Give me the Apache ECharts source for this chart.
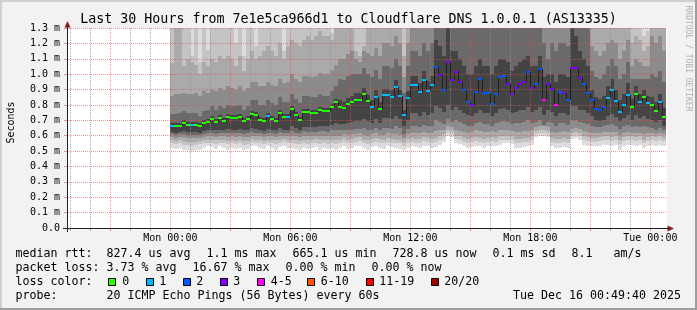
<!DOCTYPE html>
<html><head><meta charset="utf-8">
<script src="https://cdn.jsdelivr.net/npm/echarts@6/dist/echarts.min.js"></script>
<style>html,body{margin:0;padding:0;background:#f2f2f2}#c{width:697px;height:310px}</style>
</head><body><div id="c"></div>
<script>
// ---- DATA ----
// one column = 12 minutes; column 0 starts Mon 00:00 (x in minutes from Mon 00:00)
const STEP = 12;
const median = [
.663,.663,.663,.682,.669,.669,.669,.663,.682,.689,
.708,.689,.715,.695,.721,.715,.715,.721,.695,.708,
.741,.734,.702,.695,.728,.708,.695,.749,.721,.721,
.773,.734,.702,.754,.754,.747,.747,.767,.760,.760,
.786,.819,.789,.782,.806,.819,.834,.834,.871,.826,
.787,.854,.776,.866,.866,.854,.919,.860,.736,.847,
.932,.932,.886,.959,.893,.932,1.049,.997,.898,1.080,
.959,1.014,.950,.898,.821,.801,.886,.970,.880,.880,
.807,.872,.984,.988,.936,.871,.910,.936,.949,1.014,
.910,.936,1.036,.832,.936,.906,.801,.884,.880,.832,
1.040,1.040,.975,.936,.880,.832,.776,.767,.789,.847,
.899,.828,.754,.801,.867,.789,.871,.819,.854,.812,
.800,.763,.819,.723];
const lossLevel = [
1,0,0,0,0,1,0,0,0,0,
0,0,0,0,0,0,0,0,0,0,
0,0,0,0,1,0,0,0,0,1,
0,0,0,0,0,0,0,0,0,0,
0,0,0,0,0,0,0,0,0,0,
1,1,0,1,1,1,1,1,1,1,
1,1,1,1,1,1,2,3,2,3,
3,3,3,2,2,3,2,2,2,2,
2,2,2,2,3,3,3,3,3,2,
3,2,2,4,3,3,4,2,3,2,
3,3,3,2,2,2,2,2,2,1,
1,1,1,1,1,0,0,1,0,1,
0,0,1,0];
// smoke: ping rank boundaries (outer pair 1 .. inner pair 6); pair 1 reaches past the top
const lo1 = [
.52,.515,.52,.51,.505,.50,.505,.51,.52,.53,
.525,.515,.53,.52,.51,.52,.515,.52,.51,.515,
.535,.53,.52,.515,.53,.52,.51,.525,.535,.52,
.52,.515,.51,.52,.515,.52,.525,.51,.52,.515,
.52,.51,.52,.53,.515,.52,.53,.535,.52,.51,
.525,.53,.52,.515,.53,.525,.52,.515,.505,.52,
.53,.525,.52,.535,.53,.52,.525,.54,.56,.60,
.59,.55,.545,.53,.52,.525,.535,.53,.52,.53,
.535,.53,.54,.55,.55,.545,.52,.52,.525,.53,
.54,.59,.595,.60,.59,.53,.52,.52,.525,.52,
.58,.585,.575,.54,.535,.53,.53,.535,.54,.54,
.535,.54,.51,.535,.54,.54,.535,.54,.52,.535,
.54,.535,.54,.535];
const lo2 = [
.55,.545,.55,.54,.54,.535,.54,.545,.55,.555,
.555,.545,.555,.55,.545,.55,.545,.55,.54,.545,
.56,.555,.55,.545,.555,.55,.545,.555,.56,.55,
.55,.545,.545,.55,.545,.55,.555,.545,.55,.545,
.55,.545,.55,.56,.55,.555,.56,.565,.55,.545,
.555,.56,.555,.55,.56,.555,.55,.55,.535,.555,
.56,.555,.555,.565,.56,.555,.56,.57,.585,.62,
.61,.58,.575,.56,.555,.56,.565,.56,.555,.56,
.565,.56,.57,.575,.575,.57,.555,.555,.56,.56,
.57,.61,.615,.62,.61,.56,.555,.555,.56,.555,
.60,.605,.60,.57,.565,.56,.56,.565,.57,.57,
.565,.57,.545,.565,.57,.57,.565,.57,.55,.565,
.57,.565,.57,.565];
const lo3 = [
.57,.565,.57,.565,.56,.56,.56,.565,.57,.575,
.575,.57,.575,.57,.565,.57,.565,.57,.565,.565,
.58,.575,.57,.565,.575,.57,.57,.575,.58,.57,
.575,.57,.565,.575,.57,.575,.58,.57,.575,.57,
.575,.57,.575,.585,.575,.58,.585,.59,.575,.57,
.58,.585,.58,.575,.585,.58,.575,.575,.56,.58,
.585,.58,.58,.59,.585,.58,.585,.595,.61,.64,
.63,.60,.60,.585,.58,.585,.59,.585,.58,.585,
.59,.585,.595,.60,.60,.595,.58,.58,.585,.585,
.595,.63,.635,.64,.63,.585,.58,.58,.585,.58,
.62,.625,.62,.595,.59,.585,.585,.59,.595,.595,
.59,.595,.57,.59,.595,.595,.59,.595,.575,.59,
.595,.59,.595,.585];
const lo4 = [
.59,.585,.59,.59,.585,.585,.585,.585,.59,.595,
.60,.59,.60,.595,.59,.595,.59,.595,.59,.59,
.60,.60,.595,.59,.60,.595,.59,.60,.60,.595,
.60,.595,.59,.60,.595,.60,.60,.595,.60,.595,
.60,.60,.60,.61,.605,.61,.61,.615,.605,.60,
.61,.615,.605,.605,.615,.61,.61,.605,.585,.61,
.62,.615,.615,.625,.62,.62,.63,.635,.64,.66,
.655,.635,.63,.625,.62,.625,.635,.63,.625,.625,
.63,.625,.635,.64,.635,.63,.625,.625,.63,.63,
.635,.655,.66,.66,.655,.625,.62,.625,.63,.625,
.645,.65,.645,.63,.625,.62,.615,.62,.625,.625,
.625,.625,.605,.62,.625,.62,.62,.62,.61,.615,
.615,.61,.615,.61];
const lo5 = [
.61,.605,.61,.61,.605,.605,.605,.605,.61,.615,
.62,.61,.62,.615,.62,.615,.615,.62,.61,.615,
.625,.62,.615,.61,.62,.615,.61,.625,.62,.615,
.63,.62,.615,.63,.625,.625,.625,.63,.63,.625,
.635,.64,.635,.635,.64,.64,.645,.645,.65,.64,
.635,.65,.635,.65,.65,.645,.66,.65,.61,.645,
.665,.665,.655,.67,.66,.665,.70,.69,.675,.71,
.69,.70,.69,.675,.665,.66,.68,.69,.675,.675,
.665,.68,.69,.695,.69,.675,.68,.685,.69,.70,
.685,.69,.70,.67,.69,.685,.665,.68,.68,.67,
.70,.70,.69,.685,.675,.665,.655,.655,.66,.67,
.675,.665,.645,.66,.67,.655,.665,.655,.66,.655,
.65,.64,.65,.635];
const lo6 = [
.625,.62,.625,.63,.625,.625,.625,.62,.63,.635,
.64,.635,.64,.635,.645,.64,.64,.645,.635,.64,
.65,.645,.635,.63,.645,.64,.635,.65,.64,.64,
.66,.65,.64,.655,.655,.655,.655,.66,.66,.66,
.67,.685,.675,.675,.685,.69,.695,.695,.71,.695,
.685,.71,.68,.715,.715,.71,.73,.71,.66,.705,
.745,.745,.73,.755,.735,.745,.79,.78,.755,.80,
.77,.785,.765,.75,.735,.725,.75,.77,.75,.75,
.73,.75,.775,.78,.765,.745,.755,.765,.77,.785,
.755,.765,.785,.735,.765,.755,.725,.75,.75,.735,
.79,.79,.77,.765,.745,.725,.70,.695,.705,.725,
.74,.72,.695,.715,.735,.705,.735,.715,.725,.71,
.705,.69,.705,.665];
const hi6 = [
.683,.683,.683,.70,.69,.69,.69,.683,.70,.71,
.728,.71,.735,.715,.74,.735,.735,.74,.715,.728,
.76,.755,.72,.715,.75,.728,.715,.77,.74,.74,
.795,.755,.72,.775,.775,.767,.767,.787,.78,.78,
.806,.84,.83,.82,.845,.86,.875,.875,.91,.865,
.83,.895,.82,.905,.905,.895,.96,.90,.77,.89,
.99,.99,.945,1.02,.955,.99,1.22,1.18,1.12,1.4,
1.15,1.15,1.1,1.05,1.0,1.0,1.05,1.1,1.05,1.05,
1.0,1.05,1.1,1.1,1.08,1.02,1.05,1.08,1.1,1.12,
1.05,1.05,1.12,.98,1.0,1.0,.95,1.0,1.0,.98,
1.3,1.25,1.15,1.1,1.05,.90,.85,.84,.86,.92,
.97,.90,.83,.87,.94,.84,.92,.87,.90,.86,
.85,.82,.87,.78];
const hi5 = [
.74,.74,.745,.76,.75,.75,.75,.73,.76,.77,
.79,.77,.795,.78,.80,.795,.79,.80,.77,.79,
.83,.83,.80,.80,.83,.81,.80,.85,.82,.82,
.87,.84,.81,.86,.86,.85,.85,.87,.86,.86,
.89,.92,.97,.96,.99,1.0,1.0,1.0,1.04,1.0,
.98,1.03,.97,1.05,1.05,1.04,1.1,1.05,.88,1.05,
1.15,1.15,1.12,1.2,1.15,1.2,1.45,1.45,1.45,1.45,
1.45,1.45,1.45,1.45,1.45,1.45,1.45,1.45,1.45,1.45,
1.45,1.45,1.45,1.45,1.45,1.45,1.45,1.45,1.45,1.45,
1.45,1.45,1.45,1.2,1.1,1.2,1.15,1.2,1.2,1.18,
1.45,1.45,1.45,1.45,1.45,1.02,.98,.97,1.0,1.05,
1.1,1.05,.97,1.0,1.08,.97,.97,.97,.97,.97,
1.0,.98,1.02,.95];
const hi4 = [
.86,.87,.87,.88,.87,.87,.88,.86,.89,.88,
.90,.89,.91,.90,.92,.91,.90,.92,.89,.91,
.95,.95,.92,.92,.95,.93,.92,.97,.94,.95,
1.0,.97,.95,.99,.99,.98,.99,1.01,1.0,1.0,
1.03,1.06,1.1,1.1,1.13,1.15,1.1,1.08,1.15,1.14,
1.12,1.17,1.12,1.2,1.2,1.18,1.25,1.2,.98,1.2,
1.4,1.4,1.4,1.4,1.4,1.4,1.5,1.5,1.5,1.5,
1.5,1.5,1.5,1.5,1.5,1.5,1.5,1.5,1.5,1.5,
1.5,1.5,1.5,1.5,1.5,1.5,1.5,1.5,1.5,1.5,
1.5,1.5,1.5,1.35,1.35,1.35,1.35,1.35,1.35,1.35,
1.5,1.5,1.5,1.5,1.5,1.18,1.15,1.12,1.15,1.2,
1.22,1.2,1.1,1.15,1.22,1.05,1.1,1.08,1.05,1.05,
1.25,1.2,1.25,1.15];
const hi3 = [
1.07,1.35,1.35,1.05,1.1,1.08,1.06,1.0,1.08,1.05,
1.1,1.08,1.12,1.1,1.12,1.1,1.05,1.12,1.02,1.1,
1.15,1.1,1.12,1.15,1.18,1.15,1.12,1.2,1.1,1.18,
1.22,1.2,1.18,1.22,1.25,1.22,1.25,1.28,1.25,1.25,
1.22,1.35,1.4,1.4,1.4,1.4,1.15,1.12,1.18,1.4,
1.4,1.4,1.4,1.4,1.4,1.4,1.4,1.4,1.12,1.4,
1.5,1.5,1.5,1.5,1.5,1.5,1.5,1.5,1.5,1.5,
1.5,1.5,1.5,1.5,1.5,1.5,1.5,1.5,1.5,1.5,
1.5,1.5,1.5,1.5,1.5,1.5,1.5,1.5,1.5,1.5,
1.5,1.5,1.5,1.5,1.5,1.5,1.5,1.5,1.5,1.5,
1.5,1.5,1.5,1.5,1.5,1.4,1.4,1.4,1.4,1.4,
1.4,1.4,1.4,1.4,1.4,1.2,1.25,1.22,1.15,1.18,
1.4,1.4,1.4,1.4];
const hi2 = [
1.4,1.4,1.4,1.4,1.4,1.12,1.4,1.08,1.4,1.16,
1.4,1.4,1.4,1.4,1.4,1.4,1.2,1.4,1.12,1.4,
1.4,1.18,1.4,1.4,1.4,1.4,1.4,1.4,1.15,1.4,
1.4,1.4,1.4,1.4,1.4,1.4,1.4,1.4,1.4,1.4,
1.27,1.4,1.45,1.45,1.45,1.45,1.45,1.45,1.45,1.45,
1.45,1.45,1.45,1.45,1.45,1.45,1.45,1.45,1.45,1.45,
1.5,1.5,1.5,1.5,1.5,1.5,1.5,1.5,1.5,1.5,
1.5,1.5,1.5,1.5,1.5,1.5,1.5,1.5,1.5,1.5,
1.5,1.5,1.5,1.5,1.5,1.5,1.5,1.5,1.5,1.5,
1.5,1.5,1.5,1.5,1.5,1.5,1.5,1.5,1.5,1.5,
1.5,1.5,1.5,1.5,1.5,1.5,1.5,1.5,1.5,1.5,
1.5,1.5,1.5,1.5,1.5,1.5,1.5,1.5,1.25,1.28,
1.5,1.5,1.5,1.5];
const xTickMinutes = [0, 360, 720, 1080, 1440];
const xTickLabels = ['Mon 00:00', 'Mon 06:00', 'Mon 12:00', 'Mon 18:00', 'Tue 00:00'];
const lossLabels = ['0', '1', '2', '3', '4-5', '6-10', '11-19', '20/20'];
const lossColors = ['#26ff00', '#00b8ff', '#0059ff', '#7e00ff', '#ff00ff', '#ff5500', '#ff0000', '#a10000'];
const titleText = 'Last 30 Hours from 7e1e5ca966d1 to Cloudflare DNS 1.0.0.1 (AS13335)';
const legendRtt = ['median rtt:', '827.4 us avg', '1.1 ms max', '665.1 us min', '728.8 us now', '0.1 ms sd', '8.1', 'am/s'];
const legendLoss = ['packet loss:', '3.73 % avg', '16.67 % max', '0.00 % min', '0.00 % now'];
const legendProbe = ['probe:', '20 ICMP Echo Pings (56 Bytes) every 60s', 'Tue Dec 16 00:49:40 2025'];

// ---- LAYOUT / STYLE ----
const X_MIN = -310, X_MAX = 1490, Y_MAX = 1.3;
const SMOKE_SHADES = ['#dcdcdc', '#c4c4c4', '#aaaaaa', '#8c8c8c', '#6a6a6a', '#444444'];
const MGRID = 'rgba(222,79,79,0.6)', GRID = 'rgba(143,143,143,0.75)';
const MONO = '"DejaVu Sans Mono", monospace';
const LEG_FONT = '11.63px ' + MONO;
const rttX = [15.5, 106.5, 206.5, 292.5, 392.5, 492.5, 571.5, 613.5];
const lossX = [15.5, 106.5, 192.5, 285.5, 371.5];
const boxX = [108, 145.7, 182.7, 220, 257.3, 307.3, 365.7, 430.7];
const boxLabelX = [122.3, 159.2, 196.3, 233.3, 270.7, 320.7, 379.2, 444.3];
const probeX = [15.5, 106.5, 513];
const lineY = [254, 268, 282, 296];

// hourly vertical grid positions (axis structure: every hour, major every 3 hours)
const gridHours = [];
for (let h = -300; h <= X_MAX; h += 60) gridHours.push([h, Math.abs(h % 180) < 1e-9 ? 1 : 0]);

const smokeRows = median.map((m, k) => [k * STEP, (k + 1) * STEP,
  lo1[k], lo2[k], lo3[k], lo4[k], lo5[k], lo6[k], hi2[k], hi3[k], hi4[k], hi5[k], hi6[k]]);
const medianRows = median.map((m, k) => [k * STEP, (k + 1) * STEP, m, k > 0 ? median[k - 1] : null, lossLevel[k]]);

function renderSmoke(params, api) {
  const t0 = api.value(0), t1 = api.value(1);
  const xa = Math.round(api.coord([t0, 0])[0]);
  const xb = Math.round(api.coord([t1, 0])[0]);
  const children = [];
  for (let j = 0; j < 6; j++) {
    const lo = api.value(2 + j);
    const hi = j === 0 ? Y_MAX : Math.min(api.value(7 + j), Y_MAX);
    const yt = Math.round(api.coord([t0, hi])[1]);
    const yb = Math.round(api.coord([t0, lo])[1]);
    children.push({ type: 'rect', shape: { x: xa, y: yt, width: xb - xa, height: yb - yt }, style: { fill: SMOKE_SHADES[j] } });
  }
  return { type: 'group', children };
}
function renderMedian(params, api) {
  const t0 = api.value(0), t1 = api.value(1), m = api.value(2), prev = api.value(3), li = api.value(4);
  const xa = Math.round(api.coord([t0, m])[0]);
  const xb = Math.round(api.coord([t1, m])[0]);
  const ym = Math.round(api.coord([t0, m])[1]);
  const children = [];
  if (!isNaN(prev)) {
    const yp = Math.round(api.coord([t0, prev])[1]);
    children.push({ type: 'line', shape: { x1: xa + 0.5, y1: yp, x2: xa + 0.5, y2: ym }, style: { stroke: '#202020', lineWidth: 1 } });
  }
  children.push({ type: 'rect', shape: { x: xa, y: ym - 1, width: xb - xa, height: 2 }, style: { fill: lossColors[li] } });
  return { type: 'group', children };
}
// dotted vertical grid line built from 1px dots (1 on, 1 off) plus a small tick under the axis
function renderGrid(params, api) {
  const h = api.value(0), major = api.value(1);
  const p0 = api.coord([h, Y_MAX]), p1 = api.coord([h, 0]);
  const x = Math.round(p0[0]);
  const yTop = Math.round(p0[1]), yBot = Math.round(p1[1]);
  const col = major > 0.5 ? MGRID : GRID;
  const children = [];
  for (let y = yTop; y < yBot; y += 2) {
    children.push({ type: 'rect', shape: { x: x, y: y, width: 1, height: 1 }, style: { fill: col } });
  }
  children.push({ type: 'rect', shape: { x: x, y: yBot + 1, width: 1, height: 2 }, style: { fill: col } });
  return { type: 'group', children };
}

const graphics = [];
graphics.push({ type: 'rect', shape: { x: 0, y: 0, width: 697, height: 2 }, style: { fill: '#cfcfcf' }, silent: true });
graphics.push({ type: 'rect', shape: { x: 0, y: 0, width: 2, height: 310 }, style: { fill: '#cfcfcf' }, silent: true });
graphics.push({ type: 'rect', shape: { x: 0, y: 308, width: 697, height: 2 }, style: { fill: '#9e9e9e' }, silent: true });
graphics.push({ type: 'rect', shape: { x: 695, y: 0, width: 2, height: 310 }, style: { fill: '#9e9e9e' }, silent: true });
graphics.push({ type: 'text', x: 348.5, y: 19.5, style: { text: titleText, font: '13.3px ' + MONO, fill: '#000', align: 'center', verticalAlign: 'middle' } });
graphics.push({ type: 'text', x: 11, y: 122.5, rotation: Math.PI / 2, style: { text: 'Seconds', font: '10px ' + MONO, fill: '#000', align: 'center', verticalAlign: 'middle' } });
graphics.push({ type: 'text', x: 688.5, y: 58.5, rotation: -Math.PI / 2, style: { text: 'RRDTOOL / TOBI OETIKER', font: '8px ' + MONO, fill: '#b0b0b0', align: 'center', verticalAlign: 'middle' } });
graphics.push({ type: 'polygon', z: 10, shape: { points: [[67.5, 21], [64.5, 27.5], [70.5, 27.5]] }, style: { fill: '#801f1f' } });
graphics.push({ type: 'polygon', z: 10, shape: { points: [[674, 228.5], [667.5, 225.5], [667.5, 231.5]] }, style: { fill: '#801f1f' } });
graphics.push({ type: 'line', z: 10, shape: { x1: 63, y1: 228.5, x2: 668, y2: 228.5 }, style: { stroke: '#1f1f1f', lineWidth: 1 } });
graphics.push({ type: 'line', z: 10, shape: { x1: 67.5, y1: 27, x2: 67.5, y2: 232 }, style: { stroke: '#1f1f1f', lineWidth: 1 } });
legendRtt.forEach((t, i) => graphics.push({ type: 'text', x: rttX[i], y: lineY[0], style: { text: t, font: LEG_FONT, fill: '#000', verticalAlign: 'middle' } }));
legendLoss.forEach((t, i) => graphics.push({ type: 'text', x: lossX[i], y: lineY[1], style: { text: t, font: LEG_FONT, fill: '#000', verticalAlign: 'middle' } }));
graphics.push({ type: 'text', x: 15.5, y: lineY[2], style: { text: 'loss color:', font: LEG_FONT, fill: '#000', verticalAlign: 'middle' } });
lossLabels.forEach((t, i) => {
  graphics.push({ type: 'rect', shape: { x: Math.round(boxX[i]) + 0.5, y: 278.5, width: 7, height: 7 }, style: { fill: lossColors[i], stroke: '#000', lineWidth: 1 } });
  graphics.push({ type: 'text', x: boxLabelX[i], y: lineY[2], style: { text: t, font: LEG_FONT, fill: '#000', verticalAlign: 'middle' } });
});
legendProbe.forEach((t, i) => graphics.push({ type: 'text', x: probeX[i], y: lineY[3], style: { text: t, font: LEG_FONT, fill: '#000', verticalAlign: 'middle' } }));

const chart = echarts.init(document.getElementById('c'), null, { renderer: 'canvas' });
chart.setOption({
  animation: false,
  backgroundColor: '#f2f2f2',
  grid: { left: 67, right: 30, top: 28, bottom: 82, show: true, backgroundColor: '#ffffff', borderWidth: 0 },
  xAxis: {
    type: 'value', min: X_MIN, max: X_MAX, interval: 10, z: 3,
    axisLine: { show: false, onZero: false },
    axisTick: { show: false },
    axisLabel: {
      margin: 5, fontFamily: MONO, fontSize: 10, color: '#000',
      formatter: v => { const i = xTickMinutes.indexOf(Math.round(v)); return i >= 0 ? xTickLabels[i] : ''; }
    },
    splitLine: { show: false }
  },
  yAxis: {
    type: 'value', min: 0, max: Y_MAX, interval: 0.1, z: 3,
    axisLine: { show: false, onZero: false },
    axisTick: { show: true, length: 3, lineStyle: { color: MGRID } },
    axisLabel: {
      margin: 7, fontFamily: MONO, fontSize: 10, color: '#000',
      formatter: v => (Math.abs(v) < 1e-9 ? '0.0' : v.toFixed(1) + ' m')
    },
    splitLine: { show: true, lineStyle: { color: MGRID, type: [1, 1], width: 1 } }
  },
  series: [
    {
      type: 'custom', name: 'smoke', z: 1, clip: true, silent: true,
      dimensions: ['t0', 't1', 'lo1', 'lo2', 'lo3', 'lo4', 'lo5', 'lo6', 'hi2', 'hi3', 'hi4', 'hi5', 'hi6'],
      encode: { x: [0, 1], y: [2] },
      renderItem: renderSmoke, data: smokeRows
    },
    {
      type: 'custom', name: 'vgrid', z: 3, clip: false, silent: true,
      dimensions: ['minute', 'major'], encode: { x: 0 },
      renderItem: renderGrid, data: gridHours
    },
    {
      type: 'custom', name: 'median', z: 5, clip: true, silent: true,
      dimensions: ['t0', 't1', 'median', 'prev', 'loss'],
      encode: { x: [0, 1], y: [2] },
      renderItem: renderMedian, data: medianRows
    }
  ],
  graphic: graphics
});
</script></body></html>
